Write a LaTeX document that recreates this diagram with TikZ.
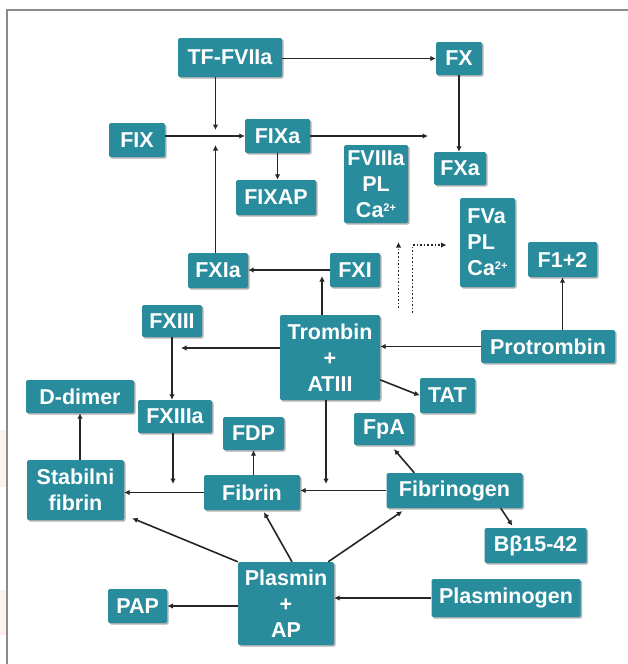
\documentclass[tikz,border=0pt]{standalone}
\usepackage{fontspec}
\setmainfont{Liberation Sans}
\usepackage{xcolor}
\usepackage{tikz}
\usetikzlibrary{arrows.meta,shadows}

\definecolor{boxteal}{RGB}{41,140,156}
\newcommand{\catwo}{Ca\raisebox{6pt}{\fontsize{11}{11}\selectfont 2+}}

\begin{document}
\begin{tikzpicture}[x=1pt, y=-1pt,
	fbox/.style={rectangle, rounded corners=1.5pt, fill=boxteal, text=white, inner sep=0pt, align=center,
		font=\bfseries\fontsize{21.5}{26}\selectfont,
		drop shadow={shadow xshift=1.5pt, shadow yshift=-1.5pt, opacity=0.3, fill=black}},
	arr/.style={draw=black!85, line width=1.6pt, -{Latex[length=5.5pt,width=5.5pt]}},
	dotarr/.style={arr, dotted}]
	\useasboundingbox (0,0) rectangle (628,664);
	% frame
	\fill[red!6] (0,430) rectangle (6,487);
	\fill[red!6] (0,590) rectangle (6,635);
	\draw[black!45, line width=1.2pt] (628,10) -- (7,10) -- (7,664);
	% top
	\node[fbox, minimum width=104pt, minimum height=39pt] (tf) at (230,57.5) {TF-FVIIa};
	\node[fbox, minimum width=46pt, minimum height=33pt] (fx) at (459,58.5) {FX};
	\node[fbox, minimum width=56pt, minimum height=34pt] (fix) at (137,140) {FIX};
	\node[fbox, minimum width=65pt, minimum height=34pt] (fixa) at (277.5,136) {FIXa};
	\node[fbox, minimum width=80pt, minimum height=35pt] (fixap) at (276,197.5) {FIXAP};
	\node[fbox, minimum width=64pt, minimum height=78pt] (fviiia) at (376,184) {FVIIIa\\PL\\\catwo};
	\node[fbox, minimum width=52pt, minimum height=33pt] (fxa) at (460,168.5) {FXa};
	\node[fbox, minimum width=55pt, minimum height=89pt, align=left] (fva) at (487.5,242.5) {FVa\\PL\\\catwo};
	\node[fbox, minimum width=69pt, minimum height=35pt] (fonetwo) at (562.5,259.5) {F1+2};
	\node[fbox, minimum width=60pt, minimum height=35pt] (fxia) at (218,270.5) {FXIa};
	\node[fbox, minimum width=50pt, minimum height=34pt] (fxi) at (355,270) {FXI};
	% thrombin
	\node[fbox, minimum width=60pt, minimum height=32pt] (fxiii) at (172,321) {FXIII};
	\node[fbox, minimum width=100pt, minimum height=85pt] (trombin) at (330,357.5) {Trombin\\+\\ATIII};
	\node[fbox, minimum width=134pt, minimum height=33pt] (protrombin) at (548,346.5) {Protrombin};
	\node[fbox, minimum width=108pt, minimum height=33pt] (ddimer) at (80,396.5) {D-dimer};
	\node[fbox, minimum width=74pt, minimum height=33pt] (fxiiia) at (175,416.5) {FXIIIa};
	\node[fbox, minimum width=55pt, minimum height=35pt] (tat) at (447.5,395.5) {TAT};
	\node[fbox, minimum width=61pt, minimum height=33pt] (fdp) at (253.5,433.5) {FDP};
	\node[fbox, minimum width=60pt, minimum height=32pt] (fpa) at (384,429) {FpA};
	% fibrin
	\node[fbox, minimum width=97pt, minimum height=60pt] (stabilni) at (75.5,490) {Stabilni\\fibrin};
	\node[fbox, minimum width=96pt, minimum height=35pt] (fibrin) at (252,492.5) {Fibrin};
	\node[fbox, minimum width=136pt, minimum height=35pt] (fibrinogen) at (454.5,490.5) {Fibrinogen};
	\node[fbox, minimum width=102pt, minimum height=35pt] (bbeta) at (535.6,545.5) {Bβ15-42};
	% plasmin
	\node[fbox, minimum width=96pt, minimum height=83pt] (plasmin) at (286,603.5) {Plasmin\\+\\AP};
	\node[fbox, minimum width=59pt, minimum height=34pt] (pap) at (137.7,606) {PAP};
	\node[fbox, minimum width=149pt, minimum height=38pt] (plasminogen) at (506,598) {Plasminogen};
	% free ends
	\coordinate (jtop) at (215.5,130);
	\coordinate (jbot) at (215.5,145);
	\coordinate (fixend) at (428,136);
	\coordinate (dotA) at (398.5,308);
	\coordinate (dotAtip) at (398.5,242);
	\coordinate (dotB) at (412.5,313);
	\coordinate (dotBtip) at (446.5,245);
	\coordinate (thrup) at (322,276);
	\coordinate (thrleft) at (181,348);
	\coordinate (thrdown) at (326,484);
	\coordinate (xiiidown) at (173,484);
	% connectors
	\draw[arr] (tf.east |- fx) -- (fx.west);
	\draw[arr] (tf.south -| jtop) -- (jtop);
	\draw[arr] (fxia.north -| jbot) -- (jbot);
	\draw[arr] (fix.east |- fixa) -- (fixa.west);
	\draw[arr] (fixa.east) -- (fixend);
	\draw[arr] (fixa.south) -- (fixap.north -| fixa);
	\draw[arr] (fx.south) -- (fxa.north -| fx);
	\draw[dotarr] (dotA) -- (dotAtip);
	\draw[dotarr] (dotB) |- (dotBtip);
	\draw[arr] (fxi.west) -- (fxia.east |- fxi);
	\draw[arr] (trombin.north -| thrup) -- (thrup);
	\draw[arr] (protrombin.west) -- (trombin.east |- protrombin);
	\draw[arr] (protrombin.north -| fonetwo) -- (fonetwo.south);
	\draw[arr] (trombin.west |- thrleft) -- (thrleft);
	\draw[arr] (fxiii.south) -- (fxiii |- fxiiia.north);
	\draw[arr] (trombin.-24) -- (tat.west);
	\draw[arr] (trombin.south -| thrdown) -- (thrdown);
	\draw[arr] (fxiiia.south -| xiiidown) -- (xiiidown);
	\draw[arr] (stabilni.north -| ddimer) -- (ddimer.south);
	\draw[arr] (fibrin.west) -- (stabilni.east |- fibrin);
	\draw[arr] (fibrin.north -| fdp) -- (fdp.south);
	\draw[arr] (fibrinogen.west) -- (fibrin.east |- fibrinogen);
	\draw[arr] ([xshift=28pt]fibrinogen.north west) -- ([xshift=10pt,yshift=-4pt]fpa.south);
	\draw[arr] ([xshift=-22pt]fibrinogen.south east) -- ([xshift=28pt,yshift=2pt]bbeta.north west);
	\draw[arr] (plasmin.north west) -- ([xshift=8pt,yshift=2pt]stabilni.south east);
	\draw[arr] ([xshift=6pt]plasmin.north) -- ([xshift=12pt,yshift=-2pt]fibrin.south);
	\draw[arr] ([xshift=-6pt]plasmin.north east) -- ([xshift=16pt,yshift=-3pt]fibrinogen.south west);
	\draw[arr] (plasmin.west |- pap) -- (pap.east);
	\draw[arr] (plasminogen.west) -- (plasmin.east |- plasminogen);
\end{tikzpicture}
\end{document}
